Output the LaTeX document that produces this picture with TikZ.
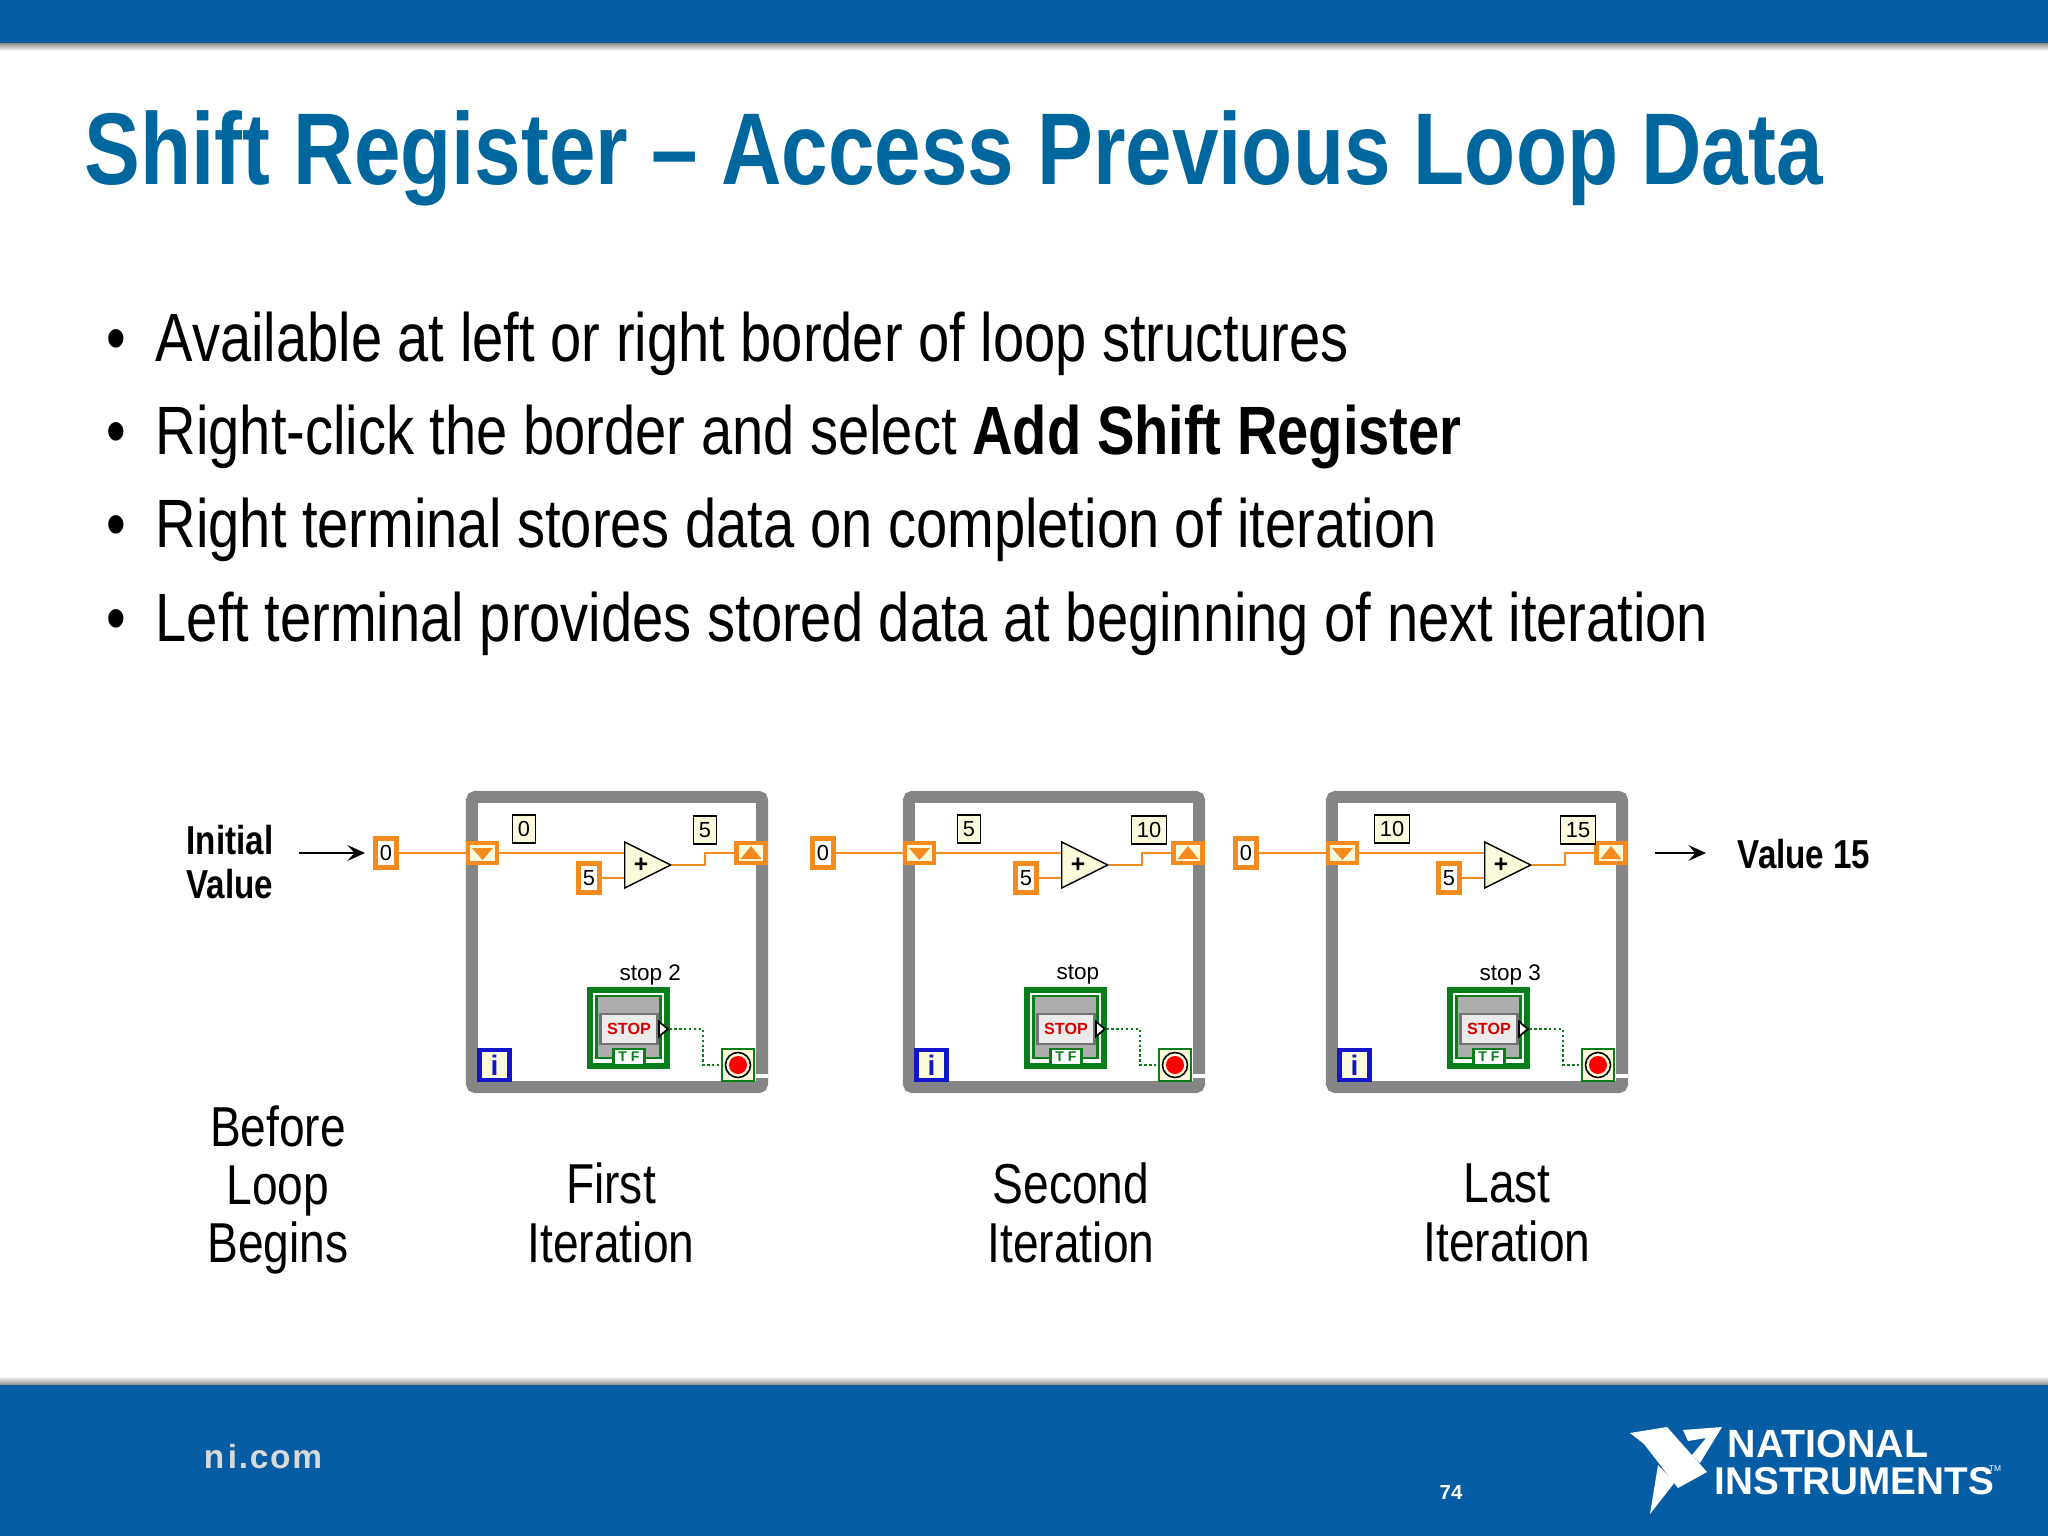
\documentclass[tikz,border=0pt]{standalone}
\usepackage{fontspec}
\setmainfont{Liberation Sans}[FakeStretch=0.82]
\newfontfamily\lvfont{Liberation Sans}
\usetikzlibrary{shapes.geometric,arrows.meta}
\definecolor{nibar}{HTML}{075DA3}
\definecolor{nititle}{HTML}{00669E}
\definecolor{wireorange}{HTML}{F58A1F}
\definecolor{cream}{HTML}{FBFBDC}
\definecolor{loopgray}{HTML}{858585}
\definecolor{stopgreen}{HTML}{0B7D1A}
\definecolor{iblue}{HTML}{1414C8}
\begin{document}
\begin{tikzpicture}
[x=0.01cm,y=-0.01cm,
bullettext/.style={anchor=base west,inner sep=0pt,font=\fontsize{19.45}{22}\selectfont},
caption/.style={align=center,inner sep=0pt,font=\fontsize{16}{16.6}\selectfont},
sidelabel/.style={align=center,inner sep=0pt,font=\bfseries\fontsize{11.5}{12.4}\selectfont},
loopframe/.style={draw=loopgray,line width=3.4pt,rounded corners=1pt,minimum width=290*0.2845pt,minimum height=290*0.2845pt,inner sep=0pt},
numconst/.style={draw=wireorange,line width=1.3pt,fill=white,inner sep=0pt,minimum width=21*0.2845pt,minimum height=29*0.2845pt,font=\lvfont\fontsize{6.2}{7}\selectfont},
indicator/.style={draw=black,line width=0.45pt,fill=cream,inner ysep=0pt,inner xsep=1.5pt,minimum width=21*0.2845pt,minimum height=28*0.2845pt,font=\lvfont\fontsize{6.2}{7}\selectfont},
srterm/.style={draw=wireorange,line width=1.3pt,fill=cream,inner sep=0pt,minimum width=29*0.2845pt,minimum height=20*0.2845pt},
wire/.style={wireorange,line width=0.75pt},
boolwire/.style={stopgreen,line width=0.7pt,dash pattern=on 0.7pt off 0.7pt},
addnode/.style={isosceles triangle,isosceles triangle apex angle=53,isosceles triangle stretches,draw=black,line width=0.4pt,fill=cream,inner sep=0pt,minimum width=46*0.2845pt,minimum height=46*0.2845pt,shape border rotate=0},
blackarrow/.style={-{Stealth[length=5pt,width=4.5pt,inset=2pt]},line width=0.6pt}]
\useasboundingbox (0,0) rectangle (2048,1536);
\fill[nibar] (0,0) rectangle (2048,43);
\shade[top color=black!45,bottom color=white] (0,43) rectangle (2048,51);
\shade[top color=white,bottom color=black!45] (0,1376) rectangle (2048,1385);
\fill[nibar] (0,1385) rectangle (2048,1536);
\node (title) at (84,184) [anchor=base west,inner sep=0pt,text=nititle,font=\bfseries\fontsize{29}{32}\selectfont] {Shift Register -- Access Previous Loop Data};
\foreach \n/\yb/\txt in {a/361/{Available at left or right border of loop structures},
  b/454/{Right-click the border and select \textbf{Add Shift Register}},
  c/547/{Right terminal stores data on completion of iteration},
  d/641/{Left terminal provides stored data at beginning of next iteration}}
  {\node (dot\n) at (106,\yb) [bullettext] {•};
   \node (line\n) at (155,\yb) [bullettext] {\txt};}
\node (initial) at (230,862) [sidelabel] {Initial\\Value};
\node (value) at (1737,854) [sidelabel,anchor=west] {Value 15};
\coordinate (initstart) at (299,853);
\coordinate (initend) at (365,853);
\coordinate (finalstart) at (1655,853);
\coordinate (finalend) at (1706,853);
\node (before) at (278,1190) [caption] {Before\\Loop\\Begins};
\node (first) at (611,1213) [caption] {First\\Iteration};
\node (second) at (1071,1213) [caption] {Second\\Iteration};
\node (last) at (1507,1213) [caption] {Last\\Iteration};
\foreach \dx/\n/\inval/\inx/\outval/\outx/\stopname in {0/1/0/524/5/705/stop 2,437/2/5/532/10/712/stop,860/3/10/532/15/718/stop 3}
{\begin{scope}[shift={(\dx,0)}]
  \node (frame\n) at (617,942) [loopframe] {};
  \fill[white] (754,1074) rectangle (768,1078);
  \node (ext\n) at (386,853) [numconst] {0};
  \node (lterm\n) at (482.5,853) [srterm] {};
  \fill[wireorange] (472,848) -- (493,848) -- (482.5,860) -- cycle;
  \node (rterm\n) at (751,853) [srterm] {};
  \fill[wireorange] (740.5,859) -- (761.5,859) -- (751,846) -- cycle;
  \node (inshow\n) at (\inx,829) [indicator] {\inval};
  \node (outshow\n) at (\outx,830) [indicator] {\outval};
  \node (add\n) at (624,865) [addnode,anchor=west] {};
  \node (plus\n) at (641,865) [inner sep=0pt,font=\lvfont\bfseries\fontsize{7}{7}\selectfont] {+};
  \node (five\n) at (589,878) [numconst] {5};
  \draw[wire] (ext\n) -- (lterm\n);
  \draw[wire] (lterm\n) -- (lterm\n -| add\n.west);
  \draw[wire] (five\n) -- (five\n -| add\n.west);
  \draw[wire] (add\n.east) -- (705,865) -- (705,853) -- (rterm\n);
  \node (stoplabel\n) at (619,975) [anchor=west,inner sep=0pt,font=\lvfont\fontsize{6.4}{7}\selectfont] {\stopname};
  \node (stopouter\n) at (628.5,1028) [draw=stopgreen,line width=1.5pt,fill=white,inner sep=0pt,minimum width=77*0.2845pt,minimum height=76*0.2845pt] {};
  \node (stopinner\n) at (628.5,1027) [draw=stopgreen,line width=0.7pt,fill=black!32,inner sep=0pt,minimum width=64*0.2845pt,minimum height=62*0.2845pt] {};
  \node (stopbtn\n) at (629,1029) [draw=black!55,line width=0.6pt,fill=black!8,inner sep=0pt,minimum width=57*0.2845pt,minimum height=30*0.2845pt,text=red!85!black,font=\lvfont\bfseries\fontsize{4.6}{5}\selectfont] {STOP};
  \node (tf\n) at (629,1057) [draw=stopgreen,line width=0.7pt,fill=white,inner sep=0pt,minimum width=31*0.2845pt,minimum height=16*0.2845pt,text=stopgreen,font=\lvfont\bfseries\fontsize{4}{4}\selectfont] {T F};
  \node (stopout\n) at (658,1029) [isosceles triangle,isosceles triangle apex angle=80,draw=black,line width=0.5pt,fill=white,inner sep=0pt,minimum width=15*0.2845pt,minimum height=9*0.2845pt,anchor=west] {};
  \node (condterm\n) at (738,1065) [draw=stopgreen,line width=0.8pt,fill=cream,inner sep=0pt,minimum size=32*0.2845pt] {};
  \node (condring\n) at (738,1065) [circle,draw=black,line width=0.45pt,fill=cream,inner sep=0pt,minimum size=25*0.2845pt] {};
  \node (condstop\n) at (738,1065) [circle,fill=red,inner sep=0pt,minimum size=18*0.2845pt] {};
  \draw[boolwire] (stopout\n.east) -- (703,1029) -- (703,1065) -- (condterm\n);
  \node (index\n) at (494.5,1065) [draw=iblue,line width=1.2pt,fill=cream,inner sep=0pt,minimum size=30*0.2845pt,text=iblue,font=\lvfont\bfseries\fontsize{8}{8}\selectfont] {i};
\end{scope}}
\draw[blackarrow] (initstart) -- (initend);
\draw[blackarrow] (finalstart) -- (finalend);
\node (nicom) at (263,1457) [inner sep=0pt,text=black!15,font=\lvfont\bfseries\fontsize{9.5}{10}\selectfont,text width=120*0.2845pt,align=center] {n\kern1pt i\kern.5pt.\kern.5pt c\kern.5pt o\kern.5pt m};
\node (pagenum) at (1451,1492) [inner sep=0pt,text=white,font=\lvfont\bfseries\fontsize{5.8}{6}\selectfont] {74};
\fill[white] (1630,1433) -- (1667,1427) -- (1707,1472) -- (1678,1488) -- (1644,1444) -- cycle;
\fill[white] (1658,1465) -- (1675,1482) -- (1650,1514) -- cycle;
\fill[white] (1683,1430) -- (1722,1427) -- (1700,1463) -- (1692,1455) -- (1706,1438) -- (1688,1441) -- cycle;
\node (national) at (1727,1457) [anchor=base west,inner sep=0pt,text=white,font=\lvfont\bfseries\fontsize{11.2}{12}\selectfont] {NATIONAL};
\node (instruments) at (1714,1494.5) [anchor=base west,inner sep=0pt,text=white,font=\lvfont\bfseries\fontsize{11}{12}\selectfont] {INSTRUMENTS};
\node (trademark) at (1995,1469) [inner sep=0pt,text=white,font=\lvfont\fontsize{2.4}{3}\selectfont] {TM};
\end{tikzpicture}
\end{document}
